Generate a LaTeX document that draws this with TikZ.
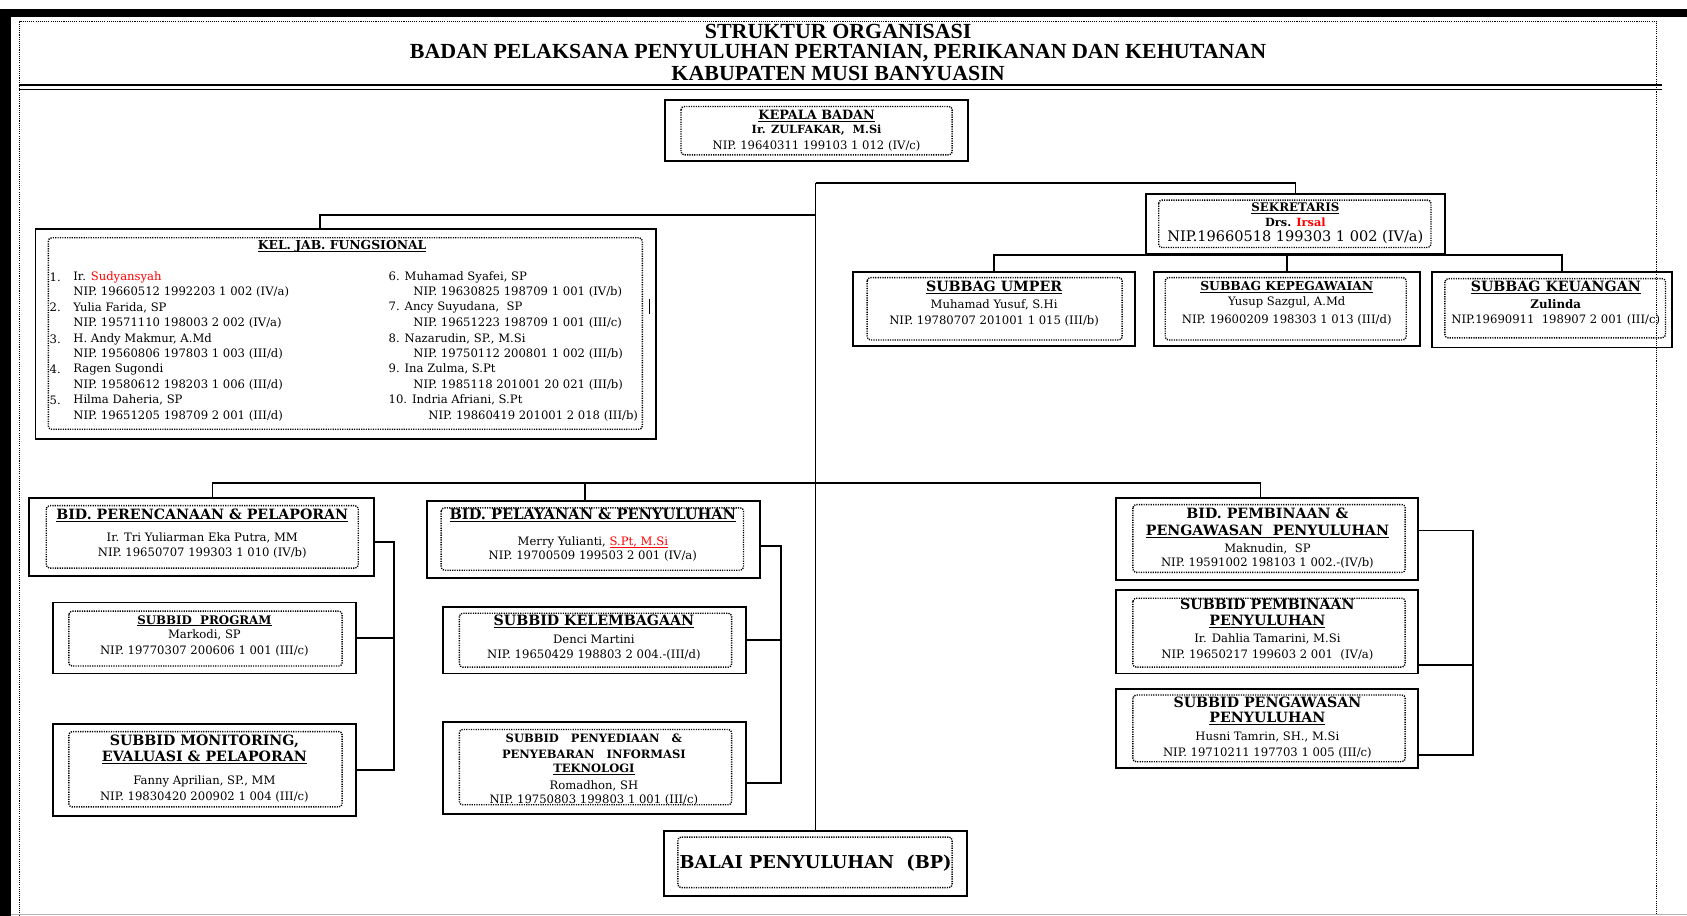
\documentclass[tikz,border=0pt]{standalone}
\usepackage{fontspec}
\usepackage{graphicx}
\setmainfont{DejaVu Serif}
\newfontfamily\titlefont{Liberation Serif}
\newcommand\uln[1]{\setbox0\hbox{#1}\leavevmode\rlap{\rule[-2.2pt]{\wd0}{1.1pt}}\box0}
\usetikzlibrary{calc,fit}
\newcommand\orgbox[9]{%
  \node[outerbox, fit={(#2,#3) (#4,#5)}] (#1) {};
  \draw[dotbox] (#6,#7) rectangle (#8,#9);}
\newcommand\tl[5]{\node[#2] (#1) at (#3,#4) {#5};}
\newcommand\fs[1]{\fontsize{#1}{#1}\selectfont}
\begin{document}
\begin{tikzpicture}[x=1pt,y=-1pt,
  outerbox/.style={draw=black, line width=1.8pt, inner sep=0pt},
  dotbox/.style={draw=black, line width=1.3pt, dash pattern=on 1.1pt off 1.1pt, rounded corners=3pt},
  pagedot/.style={draw=black, line width=1pt, dash pattern=on 1pt off 1pt},
  conn/.style={draw=black, line width=1.6pt},
  txt/.style={inner sep=0pt, font=\fs{10.8}},
  ltxt/.style={txt, anchor=west},
  ttl/.style={inner sep=0pt, font=\fs{11}\bfseries},
  bigttl/.style={inner sep=0pt, font=\fs{13.2}\bfseries},
  head/.style={inner sep=0pt, font=\titlefont\fs{20}\bfseries},
]
\useasboundingbox (0,0) rectangle (1568,851);
% page frame
\fill[black] (0,8) rectangle (1568,16);
\fill[black] (0,8) rectangle (10,851);
\draw[pagedot] (18,851) -- (18,20) -- (1540,20) -- (1540,851);
\draw[line width=2pt] (18,79) -- (1545,79);
\draw[line width=1.2pt] (18,83.5) -- (1545,83.5);
\draw[gray!60, line width=0.8pt] (10,850) -- (1568,850);
% heading
\tl{h1}{head}{779}{29}{\scalebox{1.02}[1]{STRUKTUR ORGANISASI}}
\tl{h2}{head}{779}{49}{\scalebox{1.02}[1]{BADAN PELAKSANA PENYULUHAN PERTANIAN, PERIKANAN DAN KEHUTANAN}}
\tl{h3}{head}{779}{68.5}{\scalebox{1.02}[1]{KABUPATEN MUSI BANYUASIN}}

% boxes
\orgbox{kepala}{618}{93}{900}{150}{633}{99}{885}{144}
\orgbox{sek}{1065}{180}{1343}{236}{1077}{186}{1330}{230}
\orgbox{umper}{793}{253}{1055}{322}{806}{258}{1043}{316}
\orgbox{kepeg}{1073}{253}{1320}{322}{1083}{258}{1307}{316}
\orgbox{keu}{1331}{253}{1554}{323}{1343}{259}{1548}{314}
\orgbox{kel}{33}{213}{610}{408}{45}{221}{597}{399}
\orgbox{bidA}{27}{463}{348}{535}{43}{470}{333}{528}
\orgbox{subA1}{49}{560}{331}{626}{64}{568}{318}{619}
\orgbox{subA2}{49}{673}{331}{758}{64}{680}{318}{750}
\orgbox{bidB}{397}{466}{706}{537}{410}{472}{691}{530}
\orgbox{subB1}{412}{564}{693}{626}{427}{570}{680}{620}
\orgbox{subB2}{412}{671}{693}{757}{427}{678}{680}{748}
\orgbox{bidC}{1037}{463}{1318}{539}{1053}{469}{1306}{532}
\orgbox{subC1}{1037}{548}{1318}{626}{1053}{556}{1306}{620}
\orgbox{subC2}{1037}{640}{1318}{714}{1053}{646}{1306}{708}
\orgbox{balai}{617}{772}{899}{833}{630}{778}{885}{825}

% connectors
\coordinate (c0) at (758,170);
\coordinate (c1) at (758,200);
\coordinate (bus) at (758,449);
\draw[conn] (c0) -- (balai.north);
\draw[conn] (c0) -| (sek.north);
\draw[conn] (c1) -| ($(kel.north)+(-24,0)$);
\coordinate (keuT) at ($(keu.north)+(9,0)$);
\draw[conn] (umper.north) |- (sek.south) -| (keuT);
\draw[conn] (kepeg.north) -- (kepeg.north |- sek.south);
\coordinate (bidAT) at ($(bidA.north)+(10,0)$);
\coordinate (bidBT) at ($(bidB.north)+(-8,0)$);
\coordinate (bidCT) at ($(bidC.north)+(-6,0)$);
\draw[conn] (bidAT) |- (bus) -| (bidCT);
\draw[conn] (bidBT) -- (bidBT |- bus);
% brackets
\coordinate (brA) at ($(bidA.east)+(17,5)$);
\draw[conn] ($(bidA.east)+(0,5)$) -- (brA) |- (subA2.east);
\draw[conn] (subA1.east) -- (subA1.east -| brA);
\coordinate (brB) at ($(bidB.east)+(19,6)$);
\draw[conn] ($(bidB.east)+(0,6)$) -- (brB) |- ($(subB2.east)+(0,14)$);
\draw[conn] (subB1.east) -- (subB1.east -| brB);
\coordinate (brC) at ($(bidC.east)+(50,-8)$);
\coordinate (subC1R) at ($(subC1.east)+(0,31)$);
\draw[conn] ($(bidC.east)+(0,-8)$) -- (brC) |- ($(subC2.east)+(0,25)$);
\draw[conn] (subC1R) -- (subC1R -| brC);
\draw[line width=1.2pt] (604,278) -- (604,292);

% texts
\tl{kp1}{ttl, font=\fs{11.9}\bfseries}{759}{108}{\uln{KEPALA BADAN}}
\tl{kp2}{ttl, font=\fs{10.5}\bfseries}{759}{121}{Ir. ZULFAKAR,\ \ M.Si}
\tl{kp3}{txt}{759}{136}{NIP. 19640311 199103 1 012 (IV/c)}

\tl{sk1}{ttl}{1204}{194}{\uln{SEKRETARIS}}
\tl{sk2}{ttl, font=\fs{10.5}\bfseries}{1204}{207}{Drs. {\color{red}Irsal}}
\tl{sk3}{txt, font=\fs{13.5}}{1204}{220}{NIP.19660518 199303 1 002 (IV/a)}

\tl{um1}{bigttl}{924}{267}{\uln{SUBBAG UMPER}}
\tl{um2}{txt}{924}{283}{Muhamad Yusuf, S.Hi}
\tl{um3}{txt}{924}{298}{NIP. 19780707 201001 1 015 (III/b)}

\tl{kg1}{ttl, font=\fs{11.5}\bfseries}{1196}{267}{\uln{SUBBAG KEPEGAWAIAN}}
\tl{kg2}{txt}{1196}{281}{Yusup Sazgul, A.Md}
\tl{kg3}{txt}{1196}{297}{NIP. 19600209 198303 1 013 (III/d)}

\tl{ku1}{bigttl}{1446}{267}{\uln{SUBBAG KEUANGAN}}
\tl{ku2}{ttl}{1446}{283}{Zulinda}
\tl{ku3}{txt}{1446}{297}{NIP.19690911\ \ 198907 2 001 (III/c)}

\tl{kj0}{ttl, font=\fs{11.5}\bfseries}{318}{229}{\uln{KEL. JAB. FUNGSIONAL}}
\tl{ln1}{ltxt}{46}{258}{1.}
\tl{lm1}{ltxt}{68}{258}{Ir. {\color{red}Sudyansyah}}
\tl{lp1}{ltxt}{68}{271}{NIP.\ 19660512\ 1992203\ 1 002 (IV/a)}
\tl{ln2}{ltxt}{46}{286}{2.}
\tl{lm2}{ltxt}{68}{286}{Yulia Farida, SP}
\tl{lp2}{ltxt}{68}{300}{NIP.\ 19571110\ 198003\ 2 002 (IV/a)}
\tl{ln3}{ltxt}{46}{315}{3.}
\tl{lm3}{ltxt}{68}{315}{H. Andy Makmur, A.Md}
\tl{lp3}{ltxt}{68}{329}{NIP.\ 19560806\ 197803\ 1 003 (III/d)}
\tl{ln4}{ltxt}{46}{343}{4.}
\tl{lm4}{ltxt}{68}{343}{Ragen Sugondi}
\tl{lp4}{ltxt}{68}{358}{NIP.\ 19580612\ 198203\ 1 006 (III/d)}
\tl{ln5}{ltxt}{46}{372}{5.}
\tl{lm5}{ltxt}{68}{372}{Hilma Daheria, SP}
\tl{lp5}{ltxt}{68}{387}{NIP.\ 19651205\ 198709\ 2 001 (III/d)}
\tl{rm6}{ltxt}{361}{258}{6. Muhamad Syafei, SP}
\tl{rp6}{ltxt}{384}{271}{NIP. 19630825 198709\ 1 001 (IV/b)}
\tl{rm7}{ltxt}{361}{286}{7. Ancy Suyudana,\ \ SP}
\tl{rp7}{ltxt}{384}{300}{NIP. 19651223 198709\ 1 001 (III/c)}
\tl{rm8}{ltxt}{361}{315}{8. Nazarudin, SP., M.Si}
\tl{rp8}{ltxt}{384}{329}{NIP. 19750112 200801\ 1 002 (III/b)}
\tl{rm9}{ltxt}{361}{343}{9. Ina Zulma, S.Pt}
\tl{rp9}{ltxt}{384}{358}{NIP. 1985118 201001\ 20 021 (III/b)}
\tl{rm10}{ltxt}{361}{372}{10. Indria Afriani, S.Pt}
\tl{rp10}{ltxt}{398}{387}{NIP. 19860419 201001 2 018 (III/b)}

\tl{pa1}{bigttl}{188}{479}{\uln{BID. PERENCANAAN \& PELAPORAN}}
\tl{pa2}{txt}{188}{500}{Ir. Tri Yuliarman Eka Putra, MM}
\tl{pa3}{txt}{188}{514}{NIP. 19650707 199303 1 010 (IV/b)}

\tl{pb1}{ttl}{190}{577}{\uln{SUBBID\ \ PROGRAM}}
\tl{pb2}{txt}{190}{590}{Markodi, SP}
\tl{pb3}{txt}{190}{605}{NIP. 19770307 200606 1 001 (III/c)}

\tl{pc1}{bigttl}{190}{689}{SUBBID MONITORING,}
\tl{pc2}{bigttl}{190}{704}{\uln{EVALUASI \& PELAPORAN}}
\tl{pc3}{txt}{190}{726}{Fanny Aprilian, SP., MM}
\tl{pc4}{txt}{190}{741}{NIP. 19830420 200902 1 004 (III/c)}

\tl{qa1}{bigttl, font=\fs{13.6}\bfseries}{551}{479}{\uln{BID. PELAYANAN \& PENYULUHAN}}
\tl{qa2}{txt}{551}{504}{Merry Yulianti, {\color{red}\uln{S.Pt, M.Si}}}
\tl{qa3}{txt}{551}{517}{NIP. 19700509 199503 2 001 (IV/a)}

\tl{qb1}{bigttl}{552}{578}{\uln{SUBBID KELEMBAGAAN}}
\tl{qb2}{txt}{552}{594}{Denci Martini}
\tl{qb3}{txt}{552}{609}{NIP. 19650429 198803 2 004.-(III/d)}

\tl{qc1}{ttl, font=\fs{10.7}\bfseries}{552}{686}{SUBBID\ \ \ PENYEDIAAN\ \ \ \&}
\tl{qc2}{ttl, font=\fs{10.7}\bfseries}{552}{701}{PENYEBARAN\ \ \ INFORMASI}
\tl{qc3}{ttl, font=\fs{10.7}\bfseries}{552}{715}{\uln{TEKNOLOGI}}
\tl{qc4}{txt}{552}{730}{Romadhon, SH}
\tl{qc5}{txt}{552}{744}{NIP. 19750803 199803 1 001 (III/c)}

\tl{ra1}{bigttl}{1178}{477}{BID. PEMBINAAN \&}
\tl{ra2}{bigttl}{1178}{494}{\uln{PENGAWASAN\ \ PENYULUHAN}}
\tl{ra3}{txt}{1178}{510}{Maknudin,\ \ SP}
\tl{ra4}{txt}{1178}{523}{NIP. 19591002 198103 1 002.-(IV/b)}

\tl{rb1}{bigttl}{1178}{562}{SUBBID PEMBINAAN}
\tl{rb2}{bigttl}{1178}{578}{\uln{PENYULUHAN}}
\tl{rb3}{txt}{1178}{594}{Ir. Dahlia Tamarini, M.Si}
\tl{rb4}{txt}{1178}{609}{NIP. 19650217 199603 2 001\ \ (IV/a)}

\tl{rc1}{bigttl}{1178}{653}{SUBBID PENGAWASAN}
\tl{rc2}{bigttl}{1178}{668}{\uln{PENYULUHAN}}
\tl{rc3}{txt}{1178}{685}{Husni Tamrin, SH., M.Si}
\tl{rc4}{txt}{1178}{700}{NIP. 19710211 197703 1 005 (III/c)}

\tl{ba1}{inner sep=0pt, font=\fs{16.5}\bfseries}{758}{802}{BALAI PENYULUHAN\ \ (BP)}
\end{tikzpicture}
\end{document}
